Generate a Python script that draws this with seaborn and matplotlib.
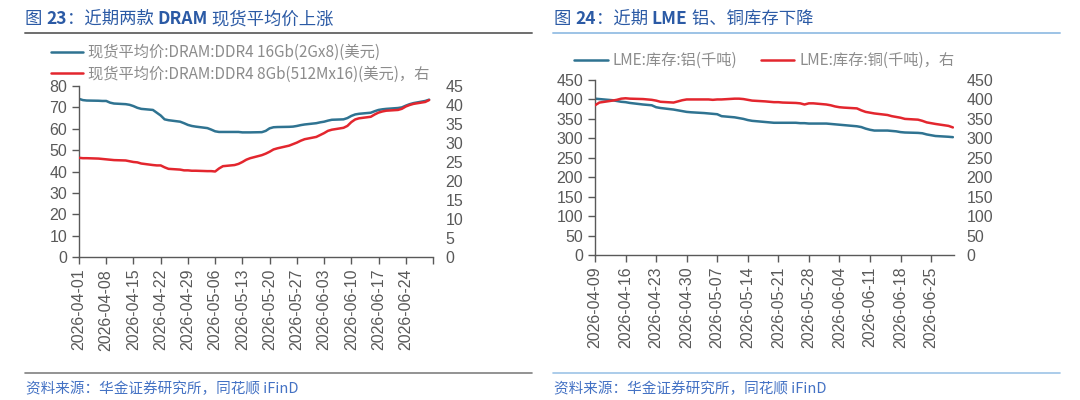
import numpy as np
import pandas as pd
import matplotlib
matplotlib.use("Agg")
import matplotlib.pyplot as plt
from matplotlib.lines import Line2D
import seaborn as sns

sns.set_theme(style="white")
plt.rcParams['font.family'] = ['Liberation Sans', 'Noto Sans CJK SC', 'DejaVu Sans']
CJK = ['Noto Sans CJK SC', 'DejaVu Sans']

# ---------------- data ----------------
dram_dates = pd.bdate_range('2026-04-01', '2026-06-30')
ddr4_16gb = [74.0, 73.4, 73.2, 73.1, 73.0, 73.0, 72.2, 71.8, 71.5, 71.2, 70.6, 69.8, 69.3, 68.8, 67.5, 66.2, 64.4, 64.0, 63.3, 62.6, 61.8, 61.3,
             61.0, 60.3, 59.6, 58.8, 58.5, 58.5, 58.5, 58.5, 58.3, 58.3, 58.3, 58.4, 59.0, 60.2, 60.7, 60.8, 60.9, 61.0, 61.3, 61.7, 62.0,
             62.6, 63.0, 63.3, 63.8, 64.2, 64.4, 65.0, 66.0, 66.7, 67.0, 67.5, 68.2, 68.8, 69.1, 69.3, 69.7, 70.0, 70.8, 71.5, 72.0, 73.0, 73.6]
ddr4_8gb = [26.1, 26.0, 26.0, 25.9, 25.8, 25.7, 25.6, 25.5, 25.4, 25.2, 25.0, 24.9, 24.6, 24.2, 24.1, 24.1, 23.6, 23.2, 23.0, 22.8, 22.8, 22.7,
            22.7, 22.6, 22.6, 22.5, 23.3, 23.9, 24.2, 24.5, 25.0, 25.6, 26.0, 26.8, 27.2, 27.7, 28.3, 28.6, 29.3, 29.7, 30.1, 30.6, 31.0,
            31.6, 32.1, 32.6, 33.2, 33.5, 34.0, 34.5, 35.5, 36.2, 36.5, 36.9, 37.5, 38.0, 38.3, 38.5, 38.7, 39.0, 39.6, 40.0, 40.3, 40.8, 41.3]
dram_ticks = ['2026-04-01', '2026-04-08', '2026-04-15', '2026-04-22', '2026-04-29', '2026-05-06', '2026-05-13',
              '2026-05-20', '2026-05-27', '2026-06-03', '2026-06-10', '2026-06-17', '2026-06-24']

lme_dates = pd.bdate_range('2026-04-09', '2026-06-30')
lme_al = [402, 401, 398, 396, 394, 393, 391, 387, 386, 385, 380, 378, 374, 372, 370, 368,
          367, 365, 364, 363, 362, 357, 354, 352, 350, 347, 345, 342, 341, 340, 340, 340, 340, 339, 339, 338, 338,
          338, 337, 336, 335, 334, 331, 329, 325, 322, 320, 320, 319, 318, 316, 315, 314, 313, 310, 308, 306, 304, 303]
lme_cu = [385, 392, 397, 399, 402, 403, 402, 401, 400, 399, 397, 394, 392, 395, 398, 400,
          400, 400, 400, 399, 400, 400, 402, 402, 401, 399, 397, 395, 394, 393, 393, 392, 391, 390, 387, 390, 390,
          387, 385, 382, 380, 379, 377, 372, 368, 366, 364, 360, 357, 355, 353, 350, 348, 345, 341, 339, 337, 332, 328]
lme_ticks = ['2026-04-09', '2026-04-16', '2026-04-23', '2026-04-30', '2026-05-07', '2026-05-14',
             '2026-05-21', '2026-05-28', '2026-06-04', '2026-06-11', '2026-06-18', '2026-06-25']

label_16 = '现货平均价:DRAM:DDR4 16Gb(2Gx8)(美元)'
label_8 = '现货平均价:DRAM:DDR4 8Gb(512Mx16)(美元)，右'
label_al = 'LME:库存:铝(千吨)'
label_cu = 'LME:库存:铜(千吨)，右'

BLUE = '#2F7391'
RED = '#E3262E'
TICKC = '#595959'
LEGC = '#8C8C8C'
TITLEC = '#2B5AA5'

df_dram = pd.DataFrame({'date': dram_dates, 'v16': ddr4_16gb, 'v8': ddr4_8gb})
df_lme = pd.DataFrame({'date': lme_dates, 'al': lme_al, 'cu': lme_cu})

fig = plt.figure(figsize=(10.8, 4.0), dpi=100)
W, H = 1080, 400

def fx(px):
    return px / W

def fy(py):
    return 1 - py / H

def style_axis(ax):
    for s in ['top', 'right']:
        ax.spines[s].set_visible(False)
    for s in ['left', 'bottom']:
        ax.spines[s].set_color(TICKC)
        ax.spines[s].set_linewidth(1.0)
    ax.tick_params(axis='both', which='both', direction='out', length=5, width=1.0,
                   color=TICKC, labelcolor=TICKC, labelsize=11.5, left=True, bottom=True)
    ax.set_xlabel('')
    ax.set_ylabel('')
    ax.grid(False)

def style_twin(ax2):
    for s in ['top', 'right', 'left', 'bottom']:
        ax2.spines[s].set_visible(False)
    ax2.tick_params(axis='y', length=0, pad=9, labelcolor=TICKC, labelsize=11.5)
    ax2.set_ylabel('')
    ax2.grid(False)

# ---------------- left chart ----------------
axL = fig.add_axes([fx(79), fy(257), fx(433 - 79), (257 - 86) / H])
axL2 = axL.twinx()
sns.lineplot(data=df_dram, x='date', y='v16', ax=axL, color=BLUE, linewidth=1.8)
sns.lineplot(data=df_dram, x='date', y='v8', ax=axL2, color=RED, linewidth=1.8)
axL.set_ylim(0, 80)
axL.set_yticks(np.arange(0, 81, 10))
axL2.set_ylim(0, 45)
axL2.set_yticks(np.arange(0, 46, 5))
axL.set_xlim(pd.Timestamp('2026-04-01'), pd.Timestamp('2026-07-01'))
tick_pos = [pd.Timestamp(t) for t in dram_ticks] + [pd.Timestamp('2026-07-01')]
axL.set_xticks(tick_pos)
axL.set_xticklabels(dram_ticks + [''], rotation=90, fontsize=11.5)
style_axis(axL)
style_twin(axL2)

hL = [Line2D([], [], color=BLUE, lw=1.8), Line2D([], [], color=RED, lw=1.8)]
legL = fig.legend(hL, [label_16, label_8], loc='upper left', bbox_to_anchor=(fx(51), fy(44)),
                  frameon=False, handlelength=2.1, handletextpad=0.35, labelspacing=0.3,
                  borderaxespad=0, borderpad=0, prop={'family': CJK, 'size': 11})
for t in legL.get_texts():
    t.set_color(LEGC)

# ---------------- right chart ----------------
axR = fig.add_axes([fx(595), fy(255), fx(954 - 595), (255 - 80) / H])
axR2 = axR.twinx()
sns.lineplot(data=df_lme, x='date', y='al', ax=axR, color=BLUE, linewidth=1.8)
sns.lineplot(data=df_lme, x='date', y='cu', ax=axR2, color=RED, linewidth=1.8)
axR.set_ylim(0, 450)
axR.set_yticks(np.arange(0, 451, 50))
axR2.set_ylim(0, 450)
axR2.set_yticks(np.arange(0, 451, 50))
axR.set_xlim(pd.Timestamp('2026-04-09'), pd.Timestamp('2026-06-30 06:00'))
axR.set_xticks([pd.Timestamp(t) for t in lme_ticks])
axR.set_xticklabels(lme_ticks, rotation=90, fontsize=11.5)
style_axis(axR)
style_twin(axR2)

hR = [Line2D([], [], color=BLUE, lw=1.8), Line2D([], [], color=RED, lw=1.8)]
legR = fig.legend(hR, [label_al, label_cu], loc='upper left', bbox_to_anchor=(fx(574), fy(52)),
                  ncol=2, frameon=False, handlelength=2.2, handletextpad=0.35, columnspacing=1.5,
                  borderaxespad=0, borderpad=0, prop={'family': CJK, 'size': 11})
for t in legR.get_texts():
    t.set_color(LEGC)

# ---------------- titles, rules, sources ----------------
def title_pieces(x0, y0, pieces):
    fig.canvas.draw()
    r = fig.canvas.get_renderer()
    x = x0
    for txt, wt in pieces:
        t = fig.text(x, y0, txt, fontsize=12.5, color=TITLEC, fontweight=wt,
                     family=CJK, va='center', ha='left')
        bb = t.get_window_extent(renderer=r)
        x = x + bb.width / W

title_pieces(fx(25), fy(19), [('图 ', 'normal'), ('23', 'bold'), ('：近期两款 ', 'normal'),
                              ('DRAM', 'bold'), (' 现货平均价上涨', 'normal')])
title_pieces(fx(554), fy(19), [('图 ', 'normal'), ('24', 'bold'), ('：近期 ', 'normal'),
                               ('LME', 'bold'), (' 铝、铜库存下降', 'normal')])

fig.add_artist(Line2D([fx(25), fx(532)], [fy(33), fy(33)], color='#6E6E6E', lw=1.4))
fig.add_artist(Line2D([fx(553), fx(1060)], [fy(33), fy(33)], color='#9DC3E6', lw=1.4))
fig.add_artist(Line2D([fx(25), fx(532)], [fy(373), fy(373)], color='#808080', lw=1.2))
fig.add_artist(Line2D([fx(553), fx(1060)], [fy(373), fy(373)], color='#9DC3E6', lw=1.2))

src = '资料来源：华金证券研究所，同花顺 iFinD'
fig.text(fx(26), fy(389), src, fontsize=10.5, color='#4472C4', family=CJK, va='center', ha='left')
fig.text(fx(554), fy(389), src, fontsize=10.5, color='#4472C4', family=CJK, va='center', ha='left')

fig.savefig('out.png', dpi=100)
